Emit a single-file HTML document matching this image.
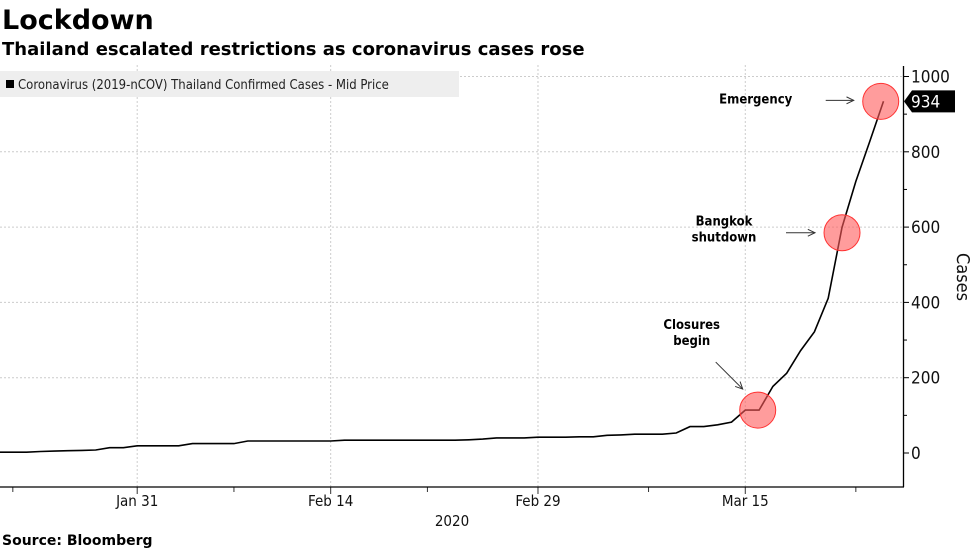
<!DOCTYPE html>
<html><head><meta charset="utf-8"><style>
body{margin:0;background:#fff;font-family:"Liberation Sans","DejaVu Sans",sans-serif;}
svg text{font-family:"DejaVu Sans Condensed","DejaVu Sans","Liberation Sans",sans-serif;}
</style></head><body>
<svg id="c" width="977" height="549" xmlns="http://www.w3.org/2000/svg">
<text x="2" y="29" font-size="27" font-weight="bold" fill="#000" style="font-family:'DejaVu Sans',sans-serif">Lockdown</text>
<text x="2" y="55" font-size="18" font-weight="bold" fill="#000" style="font-family:'DejaVu Sans',sans-serif">Thailand escalated restrictions as coronavirus cases rose</text>
<g id="grid"></g>
<rect x="0" y="71" width="459" height="26" fill="#eeeeee"/>
<rect x="6" y="80" width="8" height="8" fill="#000"/>
<text x="18" y="89" font-size="13" fill="#222">Coronavirus (2019-nCOV) Thailand Confirmed Cases - Mid Price</text>
<g id="axes"></g>
<g id="marks"></g>
<text x="452" y="526" font-size="15" fill="#111" text-anchor="middle">2020</text>
<text x="2" y="545" font-size="14" font-weight="bold" fill="#000" style="font-family:'DejaVu Sans',sans-serif">Source: Bloomberg</text>
<text transform="translate(957,277) rotate(90)" font-size="18" fill="#111" text-anchor="middle">Cases</text>
</svg>
<script>
const startDay = 0; // Jan 21
const cases = [2,2,2,4,5,6,7,8,14,14,19,
19,19,19,25,25,25,25,32,32,32,32,32,32,32,34,34,34,34,34,34,34,34,34,35,37,40,40,40,42,
42,42,43,43,47,48,50,50,50,53,70,70,75,82,114,114,177,212,272,322,411,599,721,827,934];
const yTicks = [0,200,400,600,800,1000];
const xTickLabels = ["Jan 31","Feb 14","Feb 29","Mar 15"];
const xTickDays = [10,24,39,54];
const minorTickDays = [1,17,31,47,62];
const annotations = [
 {label:["Closures","begin"], day:54.9, value:114},
 {label:["Bangkok","shutdown"], day:61, value:585},
 {label:["Emergency"], day:63.8, value:934}
];
const NS="http://www.w3.org/2000/svg";
const xS=d=>-1+d*13.82;
const yS=v=>453-v*0.3765;
function mk(t,a,p){const e=document.createElementNS(NS,t);for(const k in a)e.setAttribute(k,a[k]);p.appendChild(e);return e;}
const grid=document.getElementById('grid'),axes=document.getElementById('axes'),marks=document.getElementById('marks');
yTicks.forEach(v=>{
 if(v>0){const g=mk('line',{x1:0,x2:903,y1:yS(v),y2:yS(v),stroke:'#ccc','stroke-dasharray':'2,2'},grid);
 
 }
 const t=mk('line',{x1:903,x2:909,y1:yS(v),y2:yS(v),stroke:'#000'},axes);
 
 
 const l=mk('text',{x:911,y:yS(v)+6,'font-size':17,fill:'#111'},axes);l.textContent=v;
 
 
 if(v<1000){const m=mk('line',{x1:903,x2:907,y1:yS(v+100),y2:yS(v+100),stroke:'#000'},axes);
 
 }
});
xTickDays.forEach((d,i)=>{
 const g=mk('line',{x1:xS(d),x2:xS(d),y1:65,y2:487,stroke:'#ccc','stroke-dasharray':'2,2'},grid);
 
 
 const t=mk('line',{x1:xS(d),x2:xS(d),y1:487,y2:494,stroke:'#333'},axes);
 
 
 const l=mk('text',{x:xS(d),y:506,'font-size':15,fill:'#111','text-anchor':'middle'},axes);l.textContent=xTickLabels[i];
 
 
});
minorTickDays.forEach(d=>{const t=mk('line',{x1:xS(d),x2:xS(d),y1:487,y2:492,stroke:'#333'},axes);
 
 });
const xa=mk('line',{x1:0,x2:904,y1:487,y2:487,stroke:'#000','stroke-width':1.3},axes);


const ya=mk('line',{x1:903.5,x2:903.5,y1:66,y2:487,stroke:'#000','stroke-width':1.3},axes);


const pts=cases.map((v,i)=>xS(startDay+i).toFixed(1)+','+yS(v).toFixed(1)).join(' ');
const line=mk('polyline',{points:pts,fill:'none',stroke:'#000','stroke-width':1.6},marks);


annotations.forEach((a,i)=>{
 const cx=xS(a.day),cy=yS(a.value);
 const c=mk('circle',{cx:cx,cy:cy,r:18,fill:'rgba(255,90,90,0.6)',stroke:'#f33','stroke-width':1},marks);
 
 
 let tx,ty,ax1,ay1,ax2,ay2;
 if(i===0){tx=cx-66;ty=cy-81;ax1=cx-42;ay1=cy-48;ax2=cx-15;ay2=cy-21;}
 else if(i===1){tx=cx-118;ty=cy-7;ax1=cx-56;ay1=cy;ax2=cx-27;ay2=cy;}
 else{tx=cx-125;ty=cy+2;ax1=cx-55;ay1=cy-1;ax2=cx-27;ay2=cy-1;}
 a.label.forEach((s,k)=>{const t=mk('text',{x:tx,y:ty+k*16,'font-size':13,'font-weight':'bold','text-anchor':'middle',fill:'#000'},marks);t.textContent=s;
 
 });
 const ar=mk('line',{x1:ax1,y1:ay1,x2:ax2,y2:ay2,stroke:'#333','stroke-width':1},marks);
 
 
 const ang=Math.atan2(ay2-ay1,ax2-ax1);
 const h=mk('polyline',{points:`${ax2-8*Math.cos(ang-0.45)},${ay2-8*Math.sin(ang-0.45)} ${ax2},${ay2} ${ax2-8*Math.cos(ang+0.45)},${ay2-8*Math.sin(ang+0.45)}`,fill:'none',stroke:'#333'},marks);
 
 
});
const lv=cases[cases.length-1],ly=yS(lv);
const tag=mk('polygon',{points:`904,${ly} 912,${ly-11} 955,${ly-11} 955,${ly+11} 912,${ly+11}`,fill:'#000'},marks);


const tt=mk('text',{x:911,y:ly+6,'font-size':17,fill:'#fff'},marks);tt.textContent=lv;


</script>
</body></html>
